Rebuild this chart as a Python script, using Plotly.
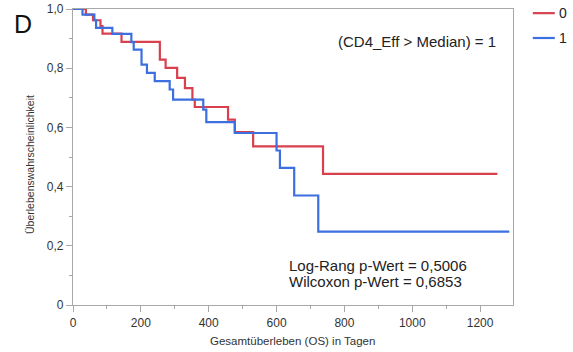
import plotly.graph_objects as go

# Kaplan-Meier step data (days, survival probability)
days_0 = [0, 38, 59, 81, 87, 143, 256, 273, 307, 330, 352, 359, 457, 477, 531, 737, 1251]
surv_0 = [1.0, 0.981, 0.962, 0.942, 0.917, 0.889, 0.829, 0.801, 0.767, 0.733, 0.694, 0.669,
          0.626, 0.584, 0.536, 0.443, 0.443]

days_1 = [0, 28, 63, 68, 116, 172, 179, 202, 218, 241, 285, 295, 384, 393, 477, 600, 610,
          652, 723, 1286]
surv_1 = [1.0, 0.981, 0.962, 0.936, 0.916, 0.888, 0.863, 0.812, 0.784, 0.756, 0.728, 0.694,
          0.660, 0.618, 0.581, 0.522, 0.463, 0.370, 0.248, 0.248]

group_names = ["0", "1"]
x_tickvals = [0, 200, 400, 600, 800, 1000, 1200]
x_ticktext = ["0", "200", "400", "600", "800", "1000", "1200"]
y_tickvals = [0, 0.2, 0.4, 0.6, 0.8, 1.0]
y_ticktext = ["0", "0,2", "0,4", "0,6", "0,8", "1,0"]
x_title = "Gesamtüberleben (OS) in Tagen"
y_title = "Überlebenswahrscheinlichkeit"

RED = "#D9404E"
BLUE = "#3C6FE0"
FONT = "Liberation Sans, Arial, sans-serif"
AXIS = "#A8A8A8"

fig = go.Figure()
fig.add_trace(go.Scatter(x=days_0, y=surv_0, mode="lines", line=dict(color=RED, width=2.2, shape="hv"),
                         name=group_names[0], showlegend=False))
fig.add_trace(go.Scatter(x=days_1, y=surv_1, mode="lines", line=dict(color=BLUE, width=2.2, shape="hv"),
                         name=group_names[1], showlegend=False))

fig.update_layout(
    width=573, height=352,
    margin=dict(l=73, r=60, t=9, b=47, autoexpand=False),
    plot_bgcolor="white", paper_bgcolor="white",
    font=dict(family=FONT, size=12, color="#333"),
)
fig.update_xaxes(
    range=[0, 1297], tickvals=x_tickvals, ticktext=x_ticktext, automargin=False,
    showgrid=False, zeroline=False, showline=True, linecolor=AXIS, linewidth=1.2, mirror=True,
    ticks="outside", ticklen=6, tickcolor=AXIS,
    minor=dict(ticks="outside", ticklen=3, dtick=100, tickcolor=AXIS, showgrid=False),
    tickfont=dict(size=12, color="#333"),
)
fig.update_yaxes(
    range=[0, 1.0], tickvals=y_tickvals, ticktext=y_ticktext, automargin=False,
    showgrid=False, zeroline=False, showline=True, linecolor=AXIS, linewidth=1.2, mirror=True,
    ticks="outside", ticklen=6, tickcolor=AXIS,
    minor=dict(ticks="outside", ticklen=3, dtick=0.1, tickcolor=AXIS, showgrid=False),
    tickfont=dict(size=12, color="#333"),
)

# Axis titles
fig.add_annotation(xref="paper", yref="paper", x=0.498, y=-0.122, text=x_title, showarrow=False,
                   xanchor="center", yanchor="middle", font=dict(size=11.5, color="#333"))
fig.add_annotation(xref="paper", yref="paper", x=-0.098, y=0.476, text=y_title, showarrow=False,
                   textangle=-90, xanchor="center", yanchor="middle", font=dict(size=10.5, color="#333"))

# Legend drawn manually
for i, (name, col) in enumerate(zip(group_names, [RED, BLUE])):
    yp = [0.986, 0.902][i]
    fig.add_shape(type="line", xref="paper", yref="paper", x0=1.045, x1=1.095, y0=yp, y1=yp,
                  line=dict(color=col, width=2.2))
    fig.add_annotation(xref="paper", yref="paper", x=1.1, y=yp, text=name, showarrow=False,
                       xanchor="left", yanchor="middle", font=dict(size=14, color="#222"))

fig.add_annotation(xref="paper", yref="paper", x=-0.139, y=0.949, text="D", showarrow=False,
                   xanchor="left", yanchor="middle", font=dict(size=25, color="#111"))
fig.add_annotation(xref="paper", yref="paper", x=0.966, y=0.889, text="(CD4_Eff > Median) = 1",
                   showarrow=False, xanchor="right", yanchor="middle", font=dict(size=15, color="#222"))
fig.add_annotation(xref="paper", yref="paper", x=0.486, y=0.135, text="Log-Rang p-Wert = 0,5006",
                   showarrow=False, xanchor="left", yanchor="middle", font=dict(size=15, color="#222"))
fig.add_annotation(xref="paper", yref="paper", x=0.486, y=0.079, text="Wilcoxon p-Wert = 0,6853",
                   showarrow=False, xanchor="left", yanchor="middle", font=dict(size=15, color="#222"))

fig.write_html("out.html", config={"displayModeBar": False},
               post_script="document.body.style.margin='0';document.body.style.padding='0';")
